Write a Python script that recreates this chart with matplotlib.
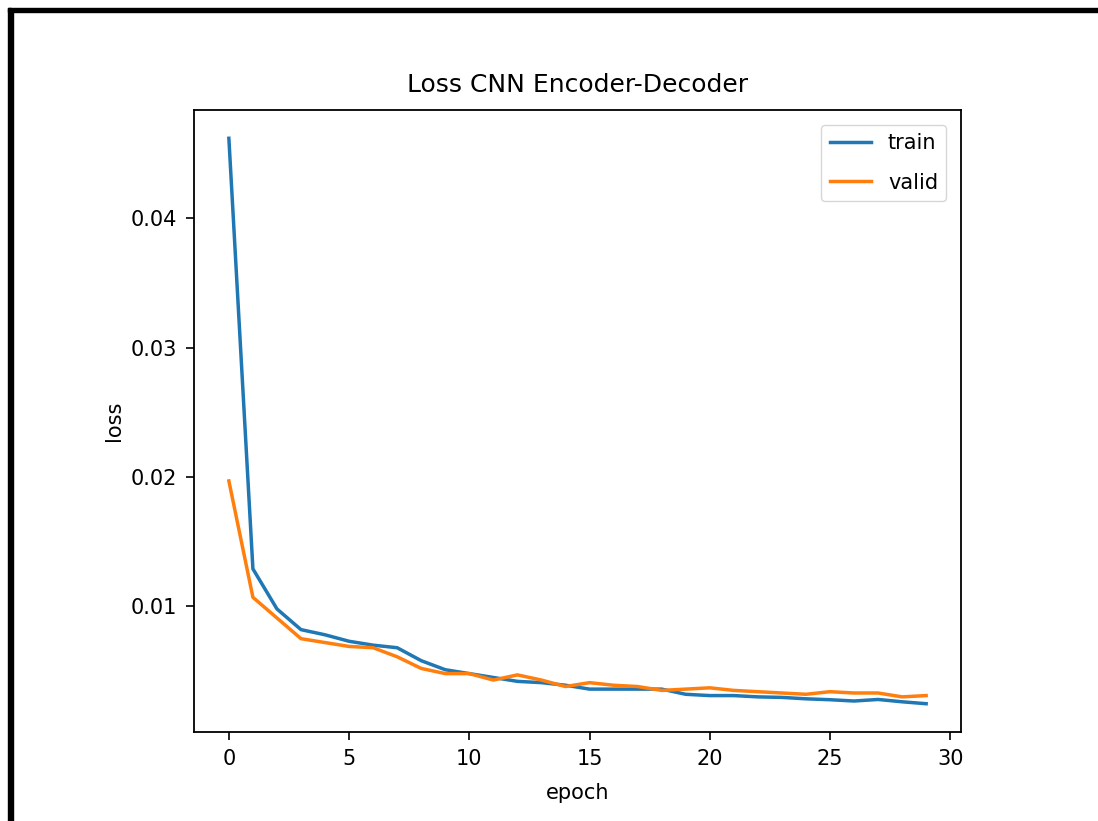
import matplotlib
matplotlib.use('Agg')
import matplotlib.pyplot as plt
from matplotlib.patches import Rectangle

epochs = list(range(30))
train_loss = [0.0462, 0.0129, 0.0098, 0.0082, 0.0078, 0.0073, 0.0070, 0.0068,
              0.0058, 0.0051, 0.0048, 0.0045, 0.0042, 0.0041, 0.0039, 0.0036,
              0.0036, 0.0036, 0.0036, 0.0032, 0.0031, 0.0031, 0.0030, 0.00296,
              0.00285, 0.00278, 0.00268, 0.0028, 0.00262, 0.00247]
valid_loss = [0.0197, 0.0107, 0.0091, 0.0075, 0.0072, 0.0069, 0.0068, 0.0061,
              0.0052, 0.0048, 0.0048, 0.0043, 0.0047, 0.0043, 0.0038, 0.0041,
              0.0039, 0.0038, 0.0035, 0.0036, 0.0037, 0.0035, 0.0034, 0.0033,
              0.0032, 0.0034, 0.0033, 0.0033, 0.0030, 0.0031]

W, H = 1098, 821
fig = plt.figure(figsize=(W / 100, H / 100), dpi=100)
ax = fig.add_axes([194 / W, 1 - 732 / H, (961 - 194) / W, (732 - 110) / H])

ax.plot(epochs, train_loss, color='#1f77b4', lw=2.5, label='train')
ax.plot(epochs, valid_loss, color='#ff7f0e', lw=2.5, label='valid')

ax.set_title('Loss CNN Encoder-Decoder', fontsize=18, pad=13)
ax.set_xlabel('epoch', fontsize=15, labelpad=10)
ax.set_ylabel('loss', fontsize=15, labelpad=5)
ax.set_yticks([0.01, 0.02, 0.03, 0.04])
ax.tick_params(labelsize=15, length=6, width=1.2, pad=6)
for s in ax.spines.values():
    s.set_linewidth(1.3)
ax.legend(loc='upper right', fontsize=15, labelspacing=0.95,
          borderaxespad=0.7)

# page frame around the screenshot
fig.patches.append(Rectangle((8 / W, 1 - 12 / H), 1 - 8 / W, 4 / H,
                             transform=fig.transFigure, color='black'))
fig.patches.append(Rectangle((8 / W, 0), 2.5 / W, 1 - 8 / H,
                             transform=fig.transFigure, color='black'))
fig.patches.append(Rectangle((12 / W, 0), 1.2 / W, 1 - 12 / H,
                             transform=fig.transFigure, color='black'))

fig.savefig('out.png', dpi=100)
